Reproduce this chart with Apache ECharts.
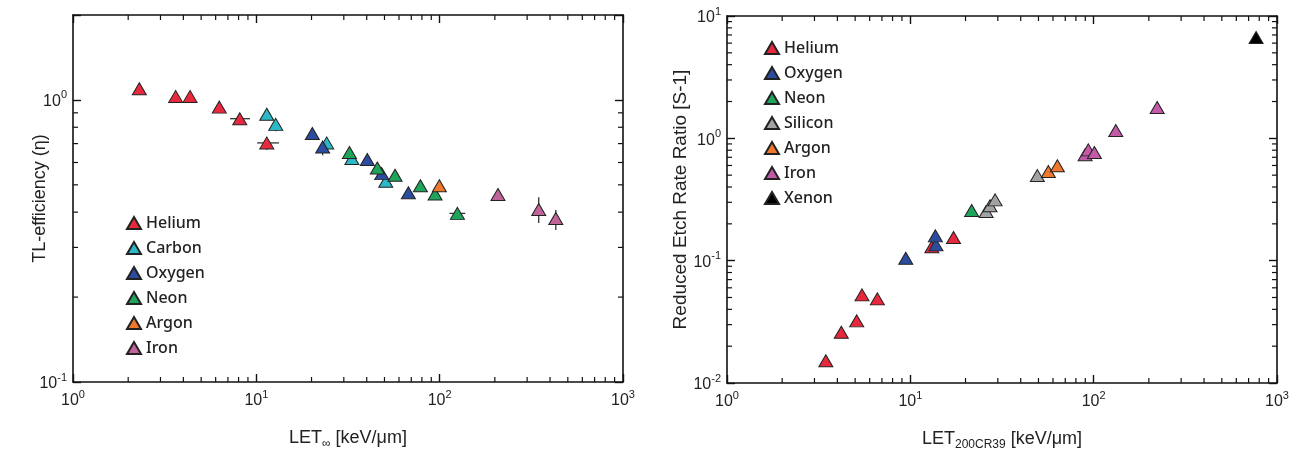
<!DOCTYPE html>
<html>
<head>
<meta charset="utf-8">
<script src="https://cdn.jsdelivr.net/npm/echarts@6/dist/echarts.min.js"></script>
<style>
  html, body { margin: 0; padding: 0; background: #fff; }
  #wrap { width: 1296px; height: 451px; position: relative; }
  .c { position: absolute; top: 0; width: 648px; height: 451px; }
</style>
</head>
<body>
<div id="wrap">
  <div class="c" id="left" style="left:0"></div>
  <div class="c" id="right" style="left:648px"></div>
</div>
<script>
// ---- left chart: TL-efficiency vs LET (x, y) ----
var heliumL = [[2.30, 1.095], [3.63, 1.029], [4.35, 1.029], [6.28, 0.943], [8.12, 0.858], [11.4, 0.704]];
var carbonL = [[11.4, 0.889], [12.76, 0.819], [24.2, 0.704], [33.2, 0.620], [50.8, 0.515]];
var oxygenL = [[20.2, 0.760], [23.0, 0.681], [40.3, 0.615], [48.3, 0.548], [67.5, 0.469]];
var neonL = [[32.2, 0.651], [45.7, 0.574], [57.1, 0.541], [78.5, 0.496], [94.4, 0.464], [125, 0.396]];
var argonL = [[99.6, 0.496]];
var ironL = [[208, 0.462], [347, 0.409], [430, 0.380]];
// error bars: [x, low, high] and [low, high, y]
var errV = [[347, 0.366, 0.452], [430, 0.346, 0.407], [11.4, 0.665, 0.704], [12.76, 0.774, 0.819],
            [23.0, 0.637, 0.681], [33.2, 0.592, 0.620]];
var errH = [[7.19, 9.23, 0.858], [10.1, 13.3, 0.704], [113, 138, 0.396]];

// ---- right chart: reduced etch rate ratio vs LET200CR39 ----
var heliumR = [[3.46, 0.0152], [4.20, 0.0260], [5.10, 0.0322], [5.45, 0.0525], [6.61, 0.0487], [13.1, 0.130], [17.2, 0.1545]];
var oxygenR = [[9.44, 0.1048], [13.8, 0.1346], [13.7, 0.1595]];
var neonR = [[21.6, 0.257]];
var siliconR = [[25.9, 0.252], [27.2, 0.281], [29.0, 0.314], [49.3, 0.496]];
var argonR = [[56.6, 0.535], [63.4, 0.596]];
var ironR = [[89.8, 0.733], [93.5, 0.805], [100.9, 0.765], [132, 1.158], [222, 1.786]];
var xenonR = [[769, 6.67]];

var FONT = 'Liberation Sans';
var TXT = '#222';

function minorVals(lo, hi) {
    var out = [];
    for (var d = lo; d < hi; d++) {
        for (var k = 2; k <= 9; k++) out.push(k * Math.pow(10, d));
    }
    return out;
}

function supLabel(v) {
    var l = Math.log10(v);
    var e = Math.round(l);
    if (Math.abs(l - e) > 1e-6) return '';
    return '{b|10}{s|' + e + '}';
}
var supRich = {
    b: { fontSize: 16, fontFamily: FONT, color: TXT, verticalAlign: 'bottom', lineHeight: 20 },
    s: { fontSize: 11, fontFamily: FONT, color: TXT, verticalAlign: 'top', lineHeight: 20 }
};

function logAxis(pos, min, max, show) {
    return {
        type: 'log', logBase: 10, position: pos, min: min, max: max, interval: 1,
        axisLine: { show: true, onZero: false, lineStyle: { color: '#111', width: 1.6 } },
        axisTick: { show: true, inside: true, length: 8, lineStyle: { color: '#111', width: 1.4 } },
        axisLabel: { show: show, formatter: supLabel, rich: supRich, margin: (pos === 'left' ? 6 : 7) },
        splitLine: { show: false },
        minorTick: { show: false },
        nameMoveOverlap: false
    };
}

// minor ticks drawn on all four sides through the axis scales
function minorTickSeries(xs, ys, xr, yr) {
    var data = [];
    xs.forEach(function (v) { data.push([v, yr[0], 0]); });
    ys.forEach(function (v) { data.push([xr[0], v, 1]); });
    return {
        type: 'custom', silent: true, clip: false, z: 1, data: data,
        renderItem: function (params, api) {
            var isY = api.value(2) === 1;
            var a, b, L = 5, st = { stroke: '#111', lineWidth: 1.2 };
            if (!isY) {
                a = api.coord([api.value(0), yr[0]]);
                b = api.coord([api.value(0), yr[1]]);
                return { type: 'group', children: [
                    { type: 'line', shape: { x1: a[0], y1: a[1], x2: a[0], y2: a[1] - L }, style: st },
                    { type: 'line', shape: { x1: b[0], y1: b[1], x2: b[0], y2: b[1] + L }, style: st }
                ] };
            }
            a = api.coord([xr[0], api.value(1)]);
            b = api.coord([xr[1], api.value(1)]);
            return { type: 'group', children: [
                { type: 'line', shape: { x1: a[0], y1: a[1], x2: a[0] + L, y2: a[1] }, style: st },
                { type: 'line', shape: { x1: b[0], y1: b[1], x2: b[0] - L, y2: b[1] }, style: st }
            ] };
        }
    };
}

function scat(name, data, color) {
    return {
        name: name, type: 'scatter', data: data, symbol: 'triangle', symbolSize: [14, 12],
        itemStyle: { color: color, borderColor: '#222', borderWidth: 1, opacity: 1 },
        z: 3
    };
}

function legendOf(names, left, top) {
    return {
        data: names, orient: 'vertical', left: left, top: top, itemGap: 9,
        itemWidth: 14, itemHeight: 12, icon: 'triangle',
        textStyle: { fontSize: 16, fontFamily: 'Noto Sans', color: TXT, fontWeight: 500 }
    };
}

var nameRich = {
    t: { fontSize: 18, fontFamily: FONT, color: TXT },
    i: { fontSize: 12, fontFamily: FONT, color: TXT, verticalAlign: 'bottom', padding: [0, 0, -3, 0] }
};

// ---------- left chart ----------
var chartL = echarts.init(document.getElementById('left'));
var xrL = [1, 1000], yrL = [0.1, 2];
var optL = {
    animation: false,
    grid: { left: 73, right: 25, top: 15, bottom: 69, outerBoundsMode: 'none' },
    legend: legendOf(['Helium', 'Carbon', 'Oxygen', 'Neon', 'Argon', 'Iron'], 121, 210),
    xAxis: [
        Object.assign(logAxis('bottom', 1, 1000, true), {
            name: '{t|LET}{i|∞}{t| [keV/μm]}', nameLocation: 'middle', nameGap: 47,
            nameTextStyle: { rich: nameRich }
        }),
        logAxis('top', 1, 1000, false)
    ],
    yAxis: [
        Object.assign(logAxis('left', 0.1, 2, true), {
            name: 'TL-efficiency (η)', nameLocation: 'middle', nameGap: 24, nameRotate: 90,
            nameTextStyle: { fontSize: 18, fontFamily: FONT, color: TXT }
        }),
        logAxis('right', 0.1, 2, false)
    ],
    series: [
        minorTickSeries(minorVals(0, 3), minorVals(-1, 0), xrL, yrL),
        {
            type: 'custom', silent: true, clip: false, z: 2, data: errV,
            renderItem: function (params, api) {
                var a = api.coord([api.value(0), api.value(1)]);
                var b = api.coord([api.value(0), api.value(2)]);
                return { type: 'line', shape: { x1: a[0], y1: a[1], x2: b[0], y2: b[1] },
                         style: { stroke: '#333', lineWidth: 1.3 } };
            }
        },
        {
            type: 'custom', silent: true, clip: false, z: 2, data: errH,
            renderItem: function (params, api) {
                var a = api.coord([api.value(0), api.value(2)]);
                var b = api.coord([api.value(1), api.value(2)]);
                return { type: 'line', shape: { x1: a[0], y1: a[1], x2: b[0], y2: b[1] },
                         style: { stroke: '#333', lineWidth: 1.3 } };
            }
        },
        scat('Helium', heliumL, '#e8283c'),
        scat('Carbon', carbonL, '#2cb8c6'),
        scat('Oxygen', oxygenL, '#2b4c9f'),
        scat('Neon', neonL, '#1fa45c'),
        scat('Argon', argonL, '#f0782c'),
        scat('Iron', ironL, '#c0649a')
    ]
};
chartL.setOption(optL);

// ---------- right chart ----------
var chartR = echarts.init(document.getElementById('right'));
var xrR = [1, 1000], yrR = [0.01, 10];
var optR = {
    animation: false,
    grid: { left: 79, right: 19, top: 16, bottom: 68, outerBoundsMode: 'none' },
    legend: legendOf(['Helium', 'Oxygen', 'Neon', 'Silicon', 'Argon', 'Iron', 'Xenon'], 111, 35),
    xAxis: [
        Object.assign(logAxis('bottom', 1, 1000, true), {
            name: '{t|LET}{i|200CR39}{t| [keV/μm]}', nameLocation: 'middle', nameGap: 47,
            nameTextStyle: { rich: nameRich }
        }),
        logAxis('top', 1, 1000, false)
    ],
    yAxis: [
        Object.assign(logAxis('left', 0.01, 10, true), {
            name: 'Reduced Etch Rate Ratio [S-1]', nameLocation: 'middle', nameGap: 37, nameRotate: 90,
            nameTextStyle: { fontSize: 19, fontFamily: FONT, color: TXT }
        }),
        logAxis('right', 0.01, 10, false)
    ],
    series: [
        minorTickSeries(minorVals(0, 3), minorVals(-2, 1), xrR, yrR),
        scat('Helium', heliumR, '#e8283c'),
        scat('Oxygen', oxygenR, '#2b4c9f'),
        scat('Neon', neonR, '#1fa45c'),
        scat('Silicon', siliconR, '#a2a2a2'),
        scat('Argon', argonR, '#f0782c'),
        scat('Iron', ironR, '#c25aa8'),
        scat('Xenon', xenonR, '#000000')
    ]
};
chartR.setOption(optR);
</script>
</body>
</html>
